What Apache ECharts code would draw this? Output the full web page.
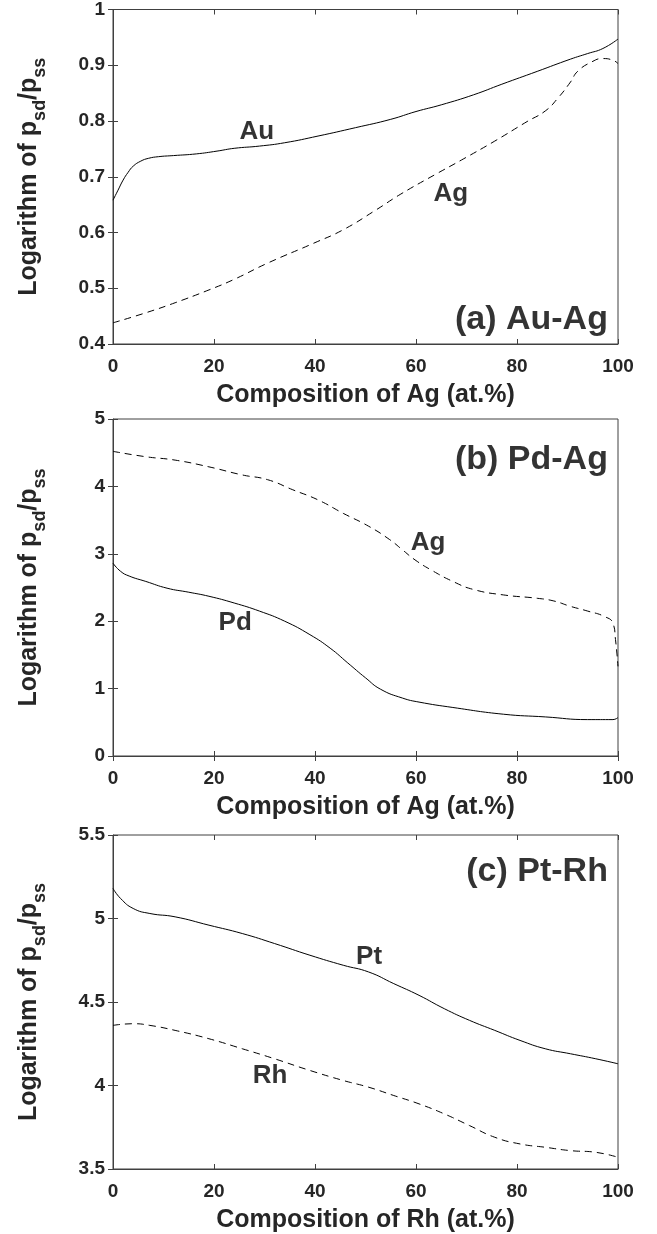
<!DOCTYPE html>
<html style="height: 100%">
<head>
<meta charset="utf-8">
</head>
<body style="height: 100%; margin: 0; background: #fff">
<div id="container" style="width: 657px; height: 1234px"></div>
<script src="https://cdn.jsdelivr.net/npm/echarts@6/dist/echarts.min.js"></script>
<script>
// panel (a) Au-Ag
var auX = [0, 1, 2, 3, 4, 5.5, 7, 9, 12, 16.5, 20.6, 24, 29, 34, 40.6, 48, 55, 60, 65, 71.4, 77, 84, 90.6, 94, 97, 100];
var auY = [0.658, 0.676, 0.694, 0.708, 0.719, 0.728, 0.733, 0.736, 0.738, 0.741, 0.746, 0.751, 0.755, 0.761, 0.773, 0.788, 0.803, 0.817, 0.829, 0.847, 0.866, 0.889, 0.911, 0.921, 0.930, 0.947];
var agAX = [0, 6.5, 12.3, 19, 24, 30.6, 39.8, 45.6, 52, 57, 64, 69, 75.6, 82, 85.6, 88, 90.6, 92, 94.8, 97, 99, 100];
var agAY = [0.438, 0.456, 0.474, 0.497, 0.516, 0.545, 0.581, 0.605, 0.640, 0.669, 0.705, 0.730, 0.764, 0.799, 0.818, 0.840, 0.870, 0.889, 0.906, 0.912, 0.909, 0.903];
// panel (b) Pd-Ag
var agBX = [0, 6.5, 12.3, 19, 25.6, 30.6, 35.6, 40.6, 45.6, 50.6, 54.8, 57.3, 59.8, 63, 67.3, 71.4, 77.3, 84, 87.3, 90.6, 94, 97.3, 99, 99.5, 100];
var agBY = [4.52, 4.44, 4.39, 4.29, 4.17, 4.10, 3.95, 3.80, 3.60, 3.41, 3.21, 3.06, 2.91, 2.76, 2.59, 2.47, 2.39, 2.34, 2.30, 2.22, 2.15, 2.07, 1.97, 1.73, 1.33];
var pdX = [0, 1.5, 3.2, 6.5, 10.7, 15, 19, 24, 29, 34, 39, 43, 46.5, 50, 53, 57.3, 60.6, 67.3, 77.3, 85.6, 94, 99, 100];
var pdY = [2.86, 2.74, 2.67, 2.59, 2.49, 2.43, 2.37, 2.27, 2.15, 2.00, 1.80, 1.60, 1.38, 1.16, 0.99, 0.86, 0.80, 0.72, 0.62, 0.58, 0.54, 0.54, 0.57];
// panel (c) Pt-Rh
var ptX = [0, 1.5, 4, 7.3, 12.3, 19, 25.6, 32, 39, 45.6, 50.6, 55.6, 60.6, 65.6, 70.6, 75.6, 80.6, 85.6, 90.6, 95.6, 100];
var ptY = [5.18, 5.12, 5.06, 5.03, 5.01, 4.96, 4.91, 4.85, 4.78, 4.72, 4.68, 4.61, 4.54, 4.46, 4.39, 4.33, 4.27, 4.22, 4.19, 4.16, 4.13];
var rhX = [0, 4, 7.3, 12.3, 19, 25.6, 32, 39, 45.6, 50.6, 55.6, 60.6, 65.6, 70.6, 75.6, 80.6, 85.6, 90.6, 95.6, 100];
var rhY = [4.36, 4.37, 4.36, 4.33, 4.28, 4.22, 4.16, 4.09, 4.03, 3.99, 3.94, 3.89, 3.83, 3.76, 3.69, 3.65, 3.63, 3.61, 3.60, 3.57];

var xTitles = ['Composition of Ag (at.%)', 'Composition of Ag (at.%)', 'Composition of Rh (at.%)'];
var yMin = [0.4, 0, 3.5];
var yMax = [1, 5, 5.5];
var yStep = [0.1, 1, 0.5];
// curve labels: [x, y, text] in data units
var curveLabels = [
  [[28.5, 0.781, 'Au'], [66.9, 0.669, 'Ag']],
  [[62.4, 3.16, 'Ag'], [24.2, 1.97, 'Pd']],
  [[50.7, 4.77, 'Pt'], [31.1, 4.06, 'Rh']]
];
var panelLabels = [[98, 0.443, '(a) Au-Ag'], [98, 4.39, '(b) Pd-Ag'], [98, 5.28, '(c) Pt-Rh']];

var font = '"Liberation Sans", Arial, sans-serif';
var axisCol = '#404040';
var tops = [7, 419, 835];

function zip(xs, ys) {
  var out = [];
  for (var i = 0; i < xs.length; i++) out.push([xs[i], ys[i]]);
  return out;
}

var grids = [], xAxes = [], yAxes = [], series = [];
for (var p = 0; p < 3; p++) {
  grids.push({left: 113, width: 505, top: tops[p], height: 337, show: true,
    borderColor: axisCol, borderWidth: 1, backgroundColor: '#fff'});
  xAxes.push({
    gridIndex: p, type: 'value', min: 0, max: 100, interval: 20, position: 'bottom',
    name: xTitles[p], nameLocation: 'middle', nameGap: 39,
    nameTextStyle: {fontFamily: font, fontWeight: 'bold', fontSize: 25, color: '#262626'},
    axisLine: {show: true, lineStyle: {color: axisCol}},
    axisTick: {inside: true, length: 5, lineStyle: {color: axisCol}},
    axisLabel: {fontFamily: font, fontWeight: 'bold', fontSize: 19, color: '#262626', margin: 13},
    splitLine: {show: false}
  });
  xAxes.push({
    gridIndex: p, type: 'value', min: 0, max: 100, interval: 20, position: 'top',
    axisLine: {show: false},
    axisTick: {inside: true, length: 5, lineStyle: {color: axisCol}},
    axisLabel: {show: false}, splitLine: {show: false}
  });
  yAxes.push({
    gridIndex: p, type: 'value', min: yMin[p], max: yMax[p], interval: yStep[p], position: 'left',
    name: '{m|Logarithm of p}{s|sd}{m|/p}{s|ss}', nameLocation: 'middle', nameGap: 64, nameRotate: 90,
    nameTextStyle: {
      color: '#262626',
      rich: {
        m: {fontFamily: font, fontWeight: 'bold', fontSize: 25, color: '#262626', lineHeight: 32, verticalAlign: 'top'},
        s: {fontFamily: font, fontWeight: 'bold', fontSize: 18, color: '#262626', lineHeight: 14, verticalAlign: 'bottom'}
      }
    },
    axisLine: {show: true, lineStyle: {color: axisCol}},
    axisTick: {show: true, inside: true, length: 5, lineStyle: {color: axisCol}},
    axisLabel: {fontFamily: font, fontWeight: 'bold', fontSize: 19, color: '#262626', margin: 8},
    splitLine: {show: false}
  });
  yAxes.push({
    gridIndex: p, type: 'value', min: yMin[p], max: yMax[p], interval: yStep[p], position: 'right',
    axisLine: {show: false},
    axisTick: {show: true, inside: true, length: 5, lineStyle: {color: axisCol}},
    axisLabel: {show: false}, splitLine: {show: false}
  });
}

function curve(p, xs, ys, dashed) {
  return {
    type: 'line', xAxisIndex: p * 2, yAxisIndex: p * 2, data: zip(xs, ys),
    smooth: 0.5, symbol: 'none', silent: true,
    lineStyle: {color: '#000', width: 1, type: dashed ? [7, 5] : 'solid'}
  };
}
series.push(curve(0, auX, auY, false));
series.push(curve(0, agAX, agAY, true));
series.push(curve(1, agBX, agBY, true));
series.push(curve(1, pdX, pdY, false));
series.push(curve(2, ptX, ptY, false));
series.push(curve(2, rhX, rhY, true));

for (var q = 0; q < 3; q++) {
  series.push({
    type: 'scatter', xAxisIndex: q * 2, yAxisIndex: q * 2, symbolSize: 0, silent: true,
    data: curveLabels[q].map(function (d) { return {value: [d[0], d[1]], name: d[2]}; }),
    label: {show: true, position: 'inside', formatter: '{b}', fontFamily: font, fontWeight: 'bold', fontSize: 26, color: '#000'}
  });
  series.push({
    type: 'scatter', xAxisIndex: q * 2, yAxisIndex: q * 2, symbolSize: 0, silent: true,
    data: [{value: [panelLabels[q][0], panelLabels[q][1]], name: panelLabels[q][2]}],
    label: {show: true, position: 'left', distance: 0, formatter: '{b}', fontFamily: font, fontWeight: 'bold', fontSize: 34, color: '#000'}
  });
}

var chart = echarts.init(document.getElementById('container'), null, {renderer: 'canvas'});
chart.setOption({
  animation: false,
  backgroundColor: '#fff',
  grid: grids,
  xAxis: xAxes,
  yAxis: yAxes,
  series: series
});
</script>
</body>
</html>
